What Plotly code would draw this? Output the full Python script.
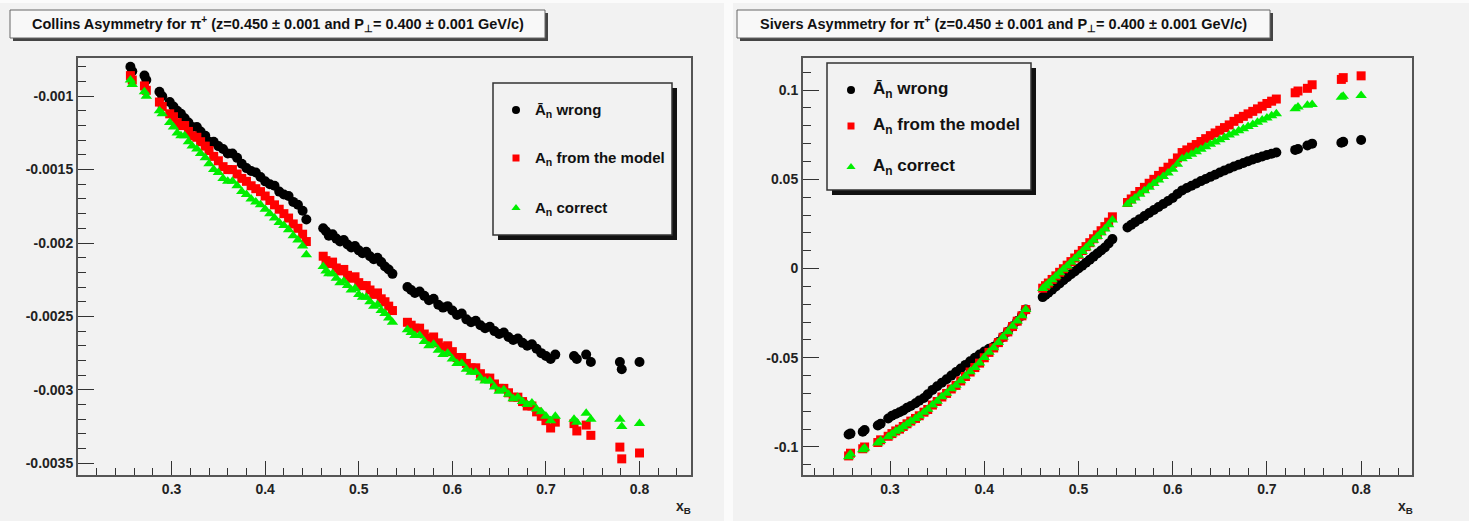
import plotly.graph_objects as go

W, H = 1469, 521

# ---------------- data ----------------
x_B = [0.256, 0.258, 0.271, 0.273, 0.287, 0.290, 0.298, 0.302, 0.306, 0.310,
       0.314, 0.318, 0.322, 0.327, 0.331, 0.336, 0.340, 0.345, 0.350, 0.355,
       0.360, 0.365, 0.370, 0.375, 0.380, 0.385, 0.390, 0.395, 0.400, 0.405,
       0.410, 0.415, 0.420, 0.425, 0.430, 0.435, 0.440, 0.444,
       0.462, 0.465, 0.468, 0.472, 0.476, 0.480, 0.484, 0.488, 0.492, 0.496,
       0.500, 0.504, 0.508, 0.512, 0.516, 0.520, 0.524, 0.528, 0.532, 0.536,
       0.552, 0.556, 0.560, 0.565, 0.570, 0.575, 0.580, 0.585, 0.590, 0.595,
       0.600, 0.605, 0.610, 0.615, 0.620, 0.625, 0.630, 0.635, 0.640, 0.645,
       0.650, 0.655, 0.660, 0.665, 0.670, 0.675, 0.680, 0.685, 0.690, 0.695,
       0.700, 0.705, 0.710,
       0.730, 0.733, 0.743, 0.748,
       0.779, 0.781, 0.800]

collins_wrong = [-0.00080, -0.00083, -0.00086, -0.00089, -0.00097, -0.00100, -0.00104, -0.00107, -0.00110, -0.00112,
                 -0.00115, -0.00118, -0.00121, -0.00121, -0.00124, -0.00127, -0.00131, -0.00131, -0.00134, -0.00136,
                 -0.00139, -0.00139, -0.00142, -0.00146, -0.00149, -0.00151, -0.00152, -0.00155, -0.00158, -0.00160,
                 -0.00161, -0.00165, -0.00167, -0.00168, -0.00172, -0.00174, -0.00178, -0.00184,
                 -0.00190, -0.00192, -0.00195, -0.00194, -0.00197, -0.00199, -0.00198, -0.00201, -0.00203, -0.00202,
                 -0.00205, -0.00207, -0.00206, -0.00209, -0.00211, -0.00210, -0.00213, -0.00216, -0.00218, -0.00221,
                 -0.00230, -0.00232, -0.00234, -0.00233, -0.00236, -0.00239, -0.00238, -0.00242, -0.00244, -0.00243,
                 -0.00246, -0.00249, -0.00248, -0.00252, -0.00254, -0.00253, -0.00256, -0.00258, -0.00257, -0.00260,
                 -0.00262, -0.00261, -0.00264, -0.00266, -0.00265, -0.00268, -0.00270, -0.00269, -0.00272, -0.00275,
                 -0.00277, -0.00279, -0.00276,
                 -0.00277, -0.00279, -0.00276, -0.00281,
                 -0.00281, -0.00286, -0.00281]

collins_model = [-0.00086, -0.00089, -0.00093, -0.00096, -0.00104, -0.00107, -0.00112, -0.00114, -0.00118, -0.00120,
                 -0.00120, -0.00124, -0.00127, -0.00128, -0.00131, -0.00134, -0.00137, -0.00141, -0.00144, -0.00148,
                 -0.00150, -0.00150, -0.00153, -0.00156, -0.00158, -0.00161, -0.00163, -0.00165, -0.00168, -0.00171,
                 -0.00174, -0.00177, -0.00180, -0.00183, -0.00187, -0.00190, -0.00194, -0.00199,
                 -0.00209, -0.00212, -0.00214, -0.00213, -0.00217, -0.00219, -0.00218, -0.00222, -0.00224, -0.00223,
                 -0.00227, -0.00229, -0.00229, -0.00232, -0.00235, -0.00234, -0.00238, -0.00240, -0.00243, -0.00246,
                 -0.00254, -0.00256, -0.00258, -0.00258, -0.00262, -0.00265, -0.00264, -0.00268, -0.00271, -0.00270,
                 -0.00274, -0.00278, -0.00278, -0.00282, -0.00285, -0.00285, -0.00289, -0.00292, -0.00292, -0.00296,
                 -0.00299, -0.00299, -0.00302, -0.00305, -0.00305, -0.00308, -0.00311, -0.00311, -0.00315, -0.00318,
                 -0.00321, -0.00326, -0.00322,
                 -0.00323, -0.00328, -0.00324, -0.00331,
                 -0.00339, -0.00347, -0.00343]

collins_correct = [-0.00089, -0.00092, -0.00097, -0.00100, -0.00110, -0.00112, -0.00118, -0.00121, -0.00125, -0.00127,
                   -0.00127, -0.00131, -0.00134, -0.00136, -0.00139, -0.00142, -0.00146, -0.00150, -0.00152, -0.00156,
                   -0.00158, -0.00158, -0.00161, -0.00165, -0.00167, -0.00170, -0.00172, -0.00174, -0.00177, -0.00180,
                   -0.00183, -0.00186, -0.00188, -0.00191, -0.00195, -0.00198, -0.00202, -0.00208,
                   -0.00216, -0.00219, -0.00221, -0.00221, -0.00224, -0.00227, -0.00226, -0.00229, -0.00232, -0.00231,
                   -0.00235, -0.00237, -0.00237, -0.00240, -0.00243, -0.00242, -0.00246, -0.00248, -0.00251, -0.00254,
                   -0.00259, -0.00261, -0.00263, -0.00263, -0.00267, -0.00270, -0.00269, -0.00273, -0.00276, -0.00275,
                   -0.00279, -0.00282, -0.00282, -0.00286, -0.00288, -0.00288, -0.00292, -0.00294, -0.00294, -0.00298,
                   -0.00301, -0.00300, -0.00303, -0.00306, -0.00305, -0.00308, -0.00310, -0.00309, -0.00313, -0.00315,
                   -0.00318, -0.00321, -0.00318,
                   -0.00320, -0.00322, -0.00316, -0.00320,
                   -0.00320, -0.00325, -0.00323]

sivers_wrong = [-0.0930, -0.0925, -0.0915, -0.0905, -0.0880, -0.0870, -0.0840, -0.0825, -0.0815, -0.0805,
                -0.0795, -0.0780, -0.0770, -0.0755, -0.0740, -0.0725, -0.0705, -0.0680, -0.0660, -0.0640,
                -0.0620, -0.0600, -0.0580, -0.0560, -0.0540, -0.0520, -0.0500, -0.0482, -0.0465, -0.0450,
                -0.0438, -0.0412, -0.0383, -0.0354, -0.0324, -0.0294, -0.0264, -0.0230,
                -0.0160, -0.0148, -0.0135, -0.0118, -0.0100, -0.0083, -0.0066, -0.0049, -0.0032, -0.0016,
                0.0000, 0.0016, 0.0033, 0.0050, 0.0067, 0.0084, 0.0101, 0.0118, 0.0140, 0.0165,
                0.0230, 0.0245, 0.0260, 0.0277, 0.0294, 0.0311, 0.0328, 0.0345, 0.0362, 0.0379,
                0.0395, 0.0418, 0.0438, 0.0451, 0.0464, 0.0477, 0.0490, 0.0502, 0.0514, 0.0526,
                0.0538, 0.0550, 0.0561, 0.0572, 0.0582, 0.0592, 0.0602, 0.0611, 0.0620, 0.0628,
                0.0636, 0.0643, 0.0650,
                0.0665, 0.0670, 0.0690, 0.0700,
                0.0705, 0.0710, 0.0720]

sivers_model = [-0.1050, -0.1035, -0.1010, -0.1000, -0.0975, -0.0960, -0.0940, -0.0925, -0.0910, -0.0900,
                -0.0885, -0.0870, -0.0855, -0.0840, -0.0825, -0.0805, -0.0790, -0.0765, -0.0745, -0.0720,
                -0.0700, -0.0675, -0.0655, -0.0630, -0.0605, -0.0580, -0.0555, -0.0530, -0.0500, -0.0470,
                -0.0445, -0.0415, -0.0385, -0.0355, -0.0325, -0.0295, -0.0265, -0.0230,
                -0.0110, -0.0096, -0.0081, -0.0061, -0.0041, -0.0021, -0.0001, 0.0019, 0.0039, 0.0059,
                0.0080, 0.0101, 0.0123, 0.0145, 0.0167, 0.0189, 0.0212, 0.0235, 0.0260, 0.0290,
                0.0370, 0.0390, 0.0410, 0.0432, 0.0455, 0.0478, 0.0500, 0.0522, 0.0545, 0.0568,
                0.0590, 0.0620, 0.0650, 0.0665, 0.0680, 0.0695, 0.0712, 0.0728, 0.0745, 0.0760,
                0.0775, 0.0790, 0.0805, 0.0825, 0.0840, 0.0853, 0.0867, 0.0881, 0.0895, 0.0910,
                0.0925, 0.0938, 0.0950,
                0.0985, 0.0995, 0.1010, 0.1030,
                0.1060, 0.1070, 0.1080]

sivers_correct = [-0.1055, -0.1040, -0.1015, -0.1005, -0.0978, -0.0963, -0.0942, -0.0927, -0.0912, -0.0901,
                  -0.0886, -0.0871, -0.0856, -0.0840, -0.0825, -0.0805, -0.0789, -0.0764, -0.0744, -0.0719,
                  -0.0699, -0.0674, -0.0654, -0.0629, -0.0604, -0.0579, -0.0554, -0.0529, -0.0499, -0.0469,
                  -0.0444, -0.0414, -0.0384, -0.0354, -0.0324, -0.0294, -0.0264, -0.0229,
                  -0.0112, -0.0098, -0.0083, -0.0063, -0.0043, -0.0023, -0.0004, 0.0015, 0.0035, 0.0055,
                  0.0075, 0.0095, 0.0116, 0.0137, 0.0158, 0.0179, 0.0200, 0.0222, 0.0245, 0.0272,
                  0.0360, 0.0378, 0.0396, 0.0416, 0.0436, 0.0456, 0.0476, 0.0496, 0.0516, 0.0536,
                  0.0556, 0.0585, 0.0615, 0.0628, 0.0641, 0.0654, 0.0668, 0.0682, 0.0696, 0.0709,
                  0.0722, 0.0735, 0.0748, 0.0760, 0.0772, 0.0784, 0.0796, 0.0808, 0.0820, 0.0832,
                  0.0844, 0.0856, 0.0868,
                  0.0895, 0.0905, 0.0915, 0.0920,
                  0.0960, 0.0965, 0.0970]

x_tickvals = [0.3, 0.4, 0.5, 0.6, 0.7, 0.8]
x_ticktext = ["0.3", "0.4", "0.5", "0.6", "0.7", "0.8"]
collins_tickvals = [-0.001, -0.0015, -0.002, -0.0025, -0.003, -0.0035]
collins_ticktext = ["-0.001", "-0.0015", "-0.002", "-0.0025", "-0.003", "-0.0035"]
sivers_tickvals = [0.1, 0.05, 0.0, -0.05, -0.1]
sivers_ticktext = ["0.1", "0.05", "0", "-0.05", "-0.1"]

series_names = ["Ā<sub>n</sub> wrong", "A<sub>n</sub> from the model", "A<sub>n</sub> correct"]
titles = ["Collins Asymmetry for π<sup>+</sup> (z=0.450 ± 0.001 and P<sub>⊥</sub>= 0.400 ± 0.001 GeV/c)",
          "Sivers Asymmetry for π<sup>+</sup> (z=0.450 ± 0.001 and P<sub>⊥</sub>= 0.400 ± 0.001 GeV/c)"]

# ---------------- styles ----------------
FONT = "Liberation Sans"
CANVAS = "#f2f2f2"
marker_styles = [dict(symbol="circle", size=10, color="black"),
                 dict(symbol="square", size=9, color="#ff0000"),
                 dict(symbol="triangle-up", size=10, color="#00ee00")]

fig = go.Figure()

panels = [("x", "y", collins_wrong, collins_model, collins_correct),
          ("x2", "y2", sivers_wrong, sivers_model, sivers_correct)]
for xa, ya, s0, s1, s2 in panels:
    for name, vals, ms in zip(series_names, [s0, s1, s2], marker_styles):
        fig.add_trace(go.Scatter(x=x_B, y=vals, mode="markers", name=name,
                                 marker=dict(symbol=ms["symbol"], size=ms["size"], color=ms["color"],
                                             line=dict(width=0)),
                                 xaxis=xa, yaxis=ya, showlegend=False))


def px_x(p):
    return p / W


def px_y(p):
    return 1 - p / H


def minor_vals(lo, hi, step):
    out = []
    v = lo
    while v <= hi + 1e-12:
        out.append(round(v, 6))
        v += step
    return out


tickfont = dict(family=FONT, size=14, color="#222", weight="bold")
common_axis = dict(ticks="inside", tickcolor="#333", tickwidth=1, showline=True, linecolor="#555",
                   linewidth=2, mirror=True, showgrid=False, zeroline=False, tickfont=tickfont,
                   fixedrange=True)

fig.update_layout(
    xaxis=dict(domain=[px_x(78), px_x(691)], range=[0.2, 0.855], anchor="y",
               tickmode="array", tickvals=x_tickvals, ticktext=x_ticktext, ticklen=14,
               minor=dict(tickmode="array", tickvals=minor_vals(0.2, 0.85, 0.02), ticklen=7,
                          ticks="inside", tickcolor="#333", tickwidth=1),
               **common_axis),
    yaxis=dict(domain=[px_y(475), px_y(58)], range=[-0.00358, -0.00074], anchor="x",
               tickmode="array", tickvals=collins_tickvals, ticktext=collins_ticktext, ticklen=16,
               minor=dict(tickmode="array", tickvals=minor_vals(-0.0036, -0.0007, 0.0001), ticklen=8,
                          ticks="inside", tickcolor="#333", tickwidth=1),
               **common_axis),
    xaxis2=dict(domain=[px_x(803), px_x(1412)], range=[0.2076, 0.854], anchor="y2",
                tickmode="array", tickvals=x_tickvals, ticktext=x_ticktext, ticklen=14,
                minor=dict(tickmode="array", tickvals=minor_vals(0.22, 0.84, 0.02), ticklen=7,
                           ticks="inside", tickcolor="#333", tickwidth=1),
                **common_axis),
    yaxis2=dict(domain=[px_y(475), px_y(58)], range=[-0.1157, 0.118], anchor="x2",
                tickmode="array", tickvals=sivers_tickvals, ticktext=sivers_ticktext, ticklen=16,
                minor=dict(tickmode="array", tickvals=minor_vals(-0.11, 0.11, 0.01), ticklen=8,
                           ticks="inside", tickcolor="#333", tickwidth=1),
                **common_axis),
    xaxis3=dict(domain=[0, 1], range=[0, W], anchor="y3", visible=False, fixedrange=True),
    yaxis3=dict(domain=[0, 1], range=[H, 0], anchor="x3", visible=False, fixedrange=True),
)

# legend markers on a pixel-coordinate overlay
leg_pos = [
    dict(mx=516, ys=[110, 158, 208], tx=533, size=15),
    dict(mx=851, ys=[90, 126, 167], tx=871, size=17),
]
for lp in leg_pos:
    for yy, ms in zip(lp["ys"], marker_styles):
        fig.add_trace(go.Scatter(x=[lp["mx"]], y=[yy], mode="markers", xaxis="x3", yaxis="y3",
                                 marker=dict(symbol=ms["symbol"], size=ms["size"] - 2, color=ms["color"]),
                                 showlegend=False, hoverinfo="skip"))


def prect(x0, x1, y0, y1, fill, lw=0, lc="#333"):
    return dict(type="rect", xref="paper", yref="paper", x0=px_x(x0), x1=px_x(x1),
                y0=px_y(y1), y1=px_y(y0), fillcolor=fill,
                line=dict(width=lw, color=lc), layer="below")


shapes = []
# canvases
shapes.append(prect(0, 724, 3, H, CANVAS))
shapes.append(prect(733, W, 3, H, CANVAS))
# title boxes
for x0, x1 in [(10, 545), (737, 1270)]:
    shapes.append(prect(x0 + 3, x1 + 3, 13, 41, "#444"))
    shapes.append(prect(x0, x1, 10, 38, "#f8f8f8", 1, "#666"))
# legend boxes
for x0, x1, y0, y1 in [(493, 672, 83, 235), (827, 1031, 63, 190)]:
    shapes.append(prect(x0 + 5, x1 + 5, y0 + 5, y1 + 5, "#111"))
    shapes.append(prect(x0, x1, y0, y1, CANVAS, 1.5, "#333"))
fig.update_layout(shapes=shapes)

annotations = []
for t, x0, x1 in zip(titles, [10, 737], [545, 1270]):
    annotations.append(dict(x=(x0 + x1) / 2, y=24, xref="x3", yref="y3", text=t, showarrow=False,
                            xanchor="center", yanchor="middle",
                            font=dict(family=FONT, size=14.5, color="#111", weight="bold")))
for lp in leg_pos:
    for yy, name in zip(lp["ys"], series_names):
        annotations.append(dict(x=lp["tx"], y=yy, xref="x3", yref="y3", text=name, showarrow=False,
                                xanchor="left", yanchor="middle",
                                font=dict(family=FONT, size=lp["size"], color="#111", weight="bold")))
for xx in [683, 1405]:
    annotations.append(dict(x=xx, y=507, xref="x3", yref="y3", text="x<sub>B</sub>", showarrow=False,
                            xanchor="center", yanchor="middle",
                            font=dict(family=FONT, size=14, color="#222", weight="bold")))
fig.update_layout(annotations=annotations)

fig.update_layout(width=W, height=H, margin=dict(l=0, r=0, t=0, b=0),
                  paper_bgcolor="#fbfbfb", plot_bgcolor="rgba(0,0,0,0)", showlegend=False)

fig.write_html("out.html", config={"displayModeBar": False},
               post_script="document.body.style.margin='0';")
